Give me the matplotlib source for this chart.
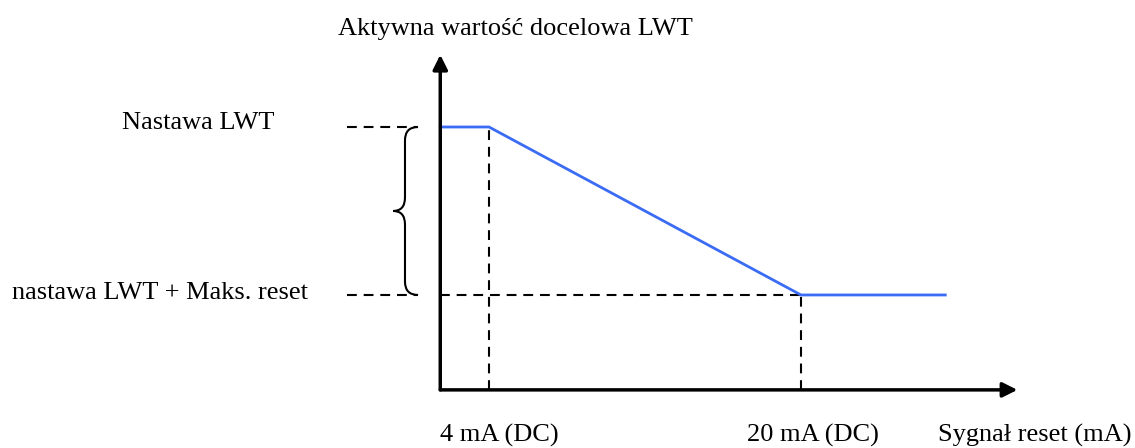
import matplotlib
matplotlib.use("Agg")
import matplotlib.pyplot as plt
from matplotlib.path import Path
from matplotlib.patches import PathPatch

# reset signal (mA) vs active LWT target (1 = LWT setpoint, 0 = setpoint + max reset)
reset_signal = [1.5, 4, 20, 27.4]
lwt_target = [1, 1, 0, 0]
signal_marks = [4, 20]
signal_labels = ["4 mA (DC)", "20 mA (DC)"]

y_title = "Aktywna wartość docelowa LWT"
x_title = "Sygnał reset (mA)"
level_labels = ["Nastawa LWT", "nastawa LWT + Maks. reset"]

plt.rcParams['font.family'] = ['Liberation Serif', 'DejaVu Serif']

fig = plt.figure(figsize=(11.35, 4.48), dpi=100)
ax = fig.add_axes([0, 0, 1, 1])
ax.set_xlim(-21.08, 37.13)
ax.set_ylim(-0.911, 1.756)
ax.axis('off')

x0, y0 = reset_signal[0], -0.565
dash = (0, (4.7, 3.3))

# axes arrows
arrow = dict(arrowstyle='-|>', lw=2.5, color='black', mutation_scale=22,
             shrinkA=0, shrinkB=0)
ax.annotate('', xy=(x0, 1.43), xytext=(x0, y0), arrowprops=arrow)
ax.annotate('', xy=(31.1, y0), xytext=(x0, y0), arrowprops=arrow)

# guide lines
for xm, ym in zip(signal_marks, [lwt_target[1], lwt_target[2]]):
    ax.plot([xm, xm], [y0, ym], color='black', lw=1.5, ls=dash)
ax.plot([x0, signal_marks[1]], [lwt_target[2]] * 2, color='black', lw=1.5, ls=dash)
for lv in (1, 0):
    ax.plot([-3.28, 0.36], [lv, lv], color='black', lw=1.5, ls=dash)

# response line
ax.plot(reset_signal, lwt_target, color='#3b6cf5', lw=2)

# curly brace
xr, xm, xt = 0.36, -0.31, -0.92
verts = [(xr, 1), (xm, 1), (xm, 0.92), (xm, 0.58), (xm, 0.5), (xt, 0.5),
         (xm, 0.5), (xm, 0.42), (xm, 0.08), (xm, 0), (xr, 0)]
codes = [Path.MOVETO, Path.CURVE3, Path.CURVE3, Path.LINETO, Path.CURVE3,
         Path.CURVE3, Path.CURVE3, Path.CURVE3, Path.LINETO, Path.CURVE3,
         Path.CURVE3]
ax.add_patch(PathPatch(Path(verts, codes), fill=False, lw=1.5, color='black'))

fs = 19
ax.text(5.33, 1.548, y_title, ha='center', va='baseline', fontsize=fs)
ax.text(-10.9, 0.988, level_labels[0], ha='center', va='baseline', fontsize=fs)
ax.text(-12.87, -0.024, level_labels[1], ha='center', va='baseline', fontsize=fs)
for xl, lab in zip([1.49, 17.23], signal_labels):
    ax.text(xl, -0.875, lab, ha='left', va='baseline', fontsize=fs)
ax.text(27.03, -0.875, x_title, ha='left', va='baseline', fontsize=fs)

fig.savefig('out.png', dpi=100)
